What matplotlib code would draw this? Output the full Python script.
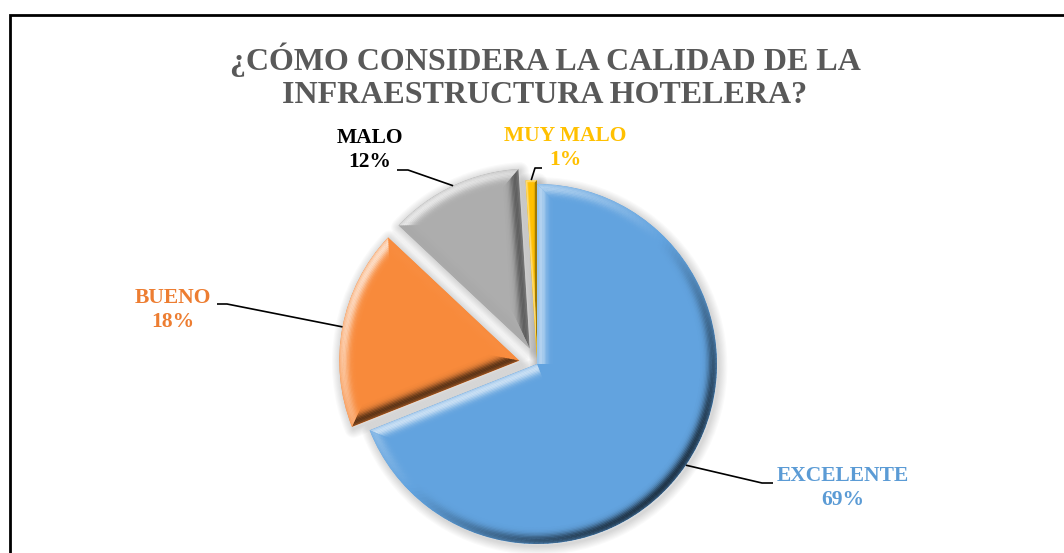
import math
import numpy as np
import matplotlib
matplotlib.use("Agg")
import matplotlib.pyplot as plt
from matplotlib.patches import Wedge, Polygon
from matplotlib import colors as mcolors

# ---------------- data ----------------
categories = ["EXCELENTE", "BUENO", "MALO", "MUY MALO"]
percentages = [69, 18, 12, 1]
title_text = "¿CÓMO CONSIDERA LA CALIDAD DE LA\nINFRAESTRUCTURA HOTELERA?"

# ---------------- style / layout ----------------
slice_colors = ["#62A3DF", "#F88A3B", "#ADADAD", "#FFC000"]
label_colors = ["#5B9BD5", "#ED7D31", "#000000", "#FFC000"]
explode_px = [0, 18, 17, 4]
W, H = 1064, 553
CX, CY, R = 537, 364, 180          # pie centre / radius in pixels (y from top)
label_xy = [(843, 488), (173, 310), (370, 150), (565, 148)]
elbow_xy = [(762, 483), (227, 304), (408, 170), (535, 168)]
tip_xy = [(773, 483), (217, 304), (397, 170), (542, 168)]
LIGHT = 135.0
FONT = "Liberation Serif"

fig = plt.figure(figsize=(W / 100, H / 100), dpi=100)
ax = fig.add_axes([0, 0, 1, 1])

wedges, _ = ax.pie(percentages, colors=slice_colors, startangle=90,
                   counterclock=False, explode=explode_px, radius=R,
                   center=(CX, H - CY), wedgeprops=dict(linewidth=0),
                   frame=False)
ax.set_xlim(0, W)
ax.set_ylim(0, H)
ax.set_aspect("equal")
ax.axis("off")


def shade(color, s):
    rgb = np.array(mcolors.to_rgb(color))
    if s >= 0:
        return tuple(np.clip(rgb + (1 - rgb) * s, 0, 1))
    return tuple(np.clip(rgb * (1 + s), 0, 1))


def light_factor(normal_deg):
    c = math.cos(math.radians(normal_deg - LIGHT))
    return c * (0.72 if c > 0 else 0.68)


def profile(t):
    # t = 0 at the outer edge of the bevel, 1 at its inner border
    return math.exp(-((t - 0.25) / 0.36) ** 2)


def add_clipped(patch, clip):
    ax.add_patch(patch)
    patch.set_clip_path(clip)


for w, base in zip(wedges, slice_colors):
    w.set_zorder(3)
    cx, cy = w.center
    r = w.r
    t1, t2 = w.theta1, w.theta2
    c = np.array([cx, cy])
    # soft shadow halo
    for j in range(1, 9):
        sh = Wedge((cx + 1.5, cy - 2), r, t1, t2, fc="none", ec="black",
                   lw=1.6 * j, alpha=0.018, joinstyle="round", zorder=1)
        ax.add_patch(sh)
    span = math.radians(t2 - t1)
    half = span / 2
    b = min(16.0, 0.3 * r * span)
    K = 12

    def s_start(d):
        return d / math.tan(half) if half < math.pi / 2 else 0.0

    def s_end(d):
        return math.sqrt(max((r - d) ** 2 - d ** 2, 0.0))

    # straight edges (mitered)
    for phi, sgn in [(t1, 1), (t2, -1)]:
        pr = math.radians(phi)
        u = np.array([math.cos(pr), math.sin(pr)])
        n_in = sgn * np.array([-math.sin(pr), math.cos(pr)])
        nout = math.degrees(math.atan2(-n_in[1], -n_in[0]))
        s = light_factor(nout)
        for k in range(K):
            d0, d1 = b * k / K, b * (k + 1) / K
            col = shade(base, s * profile((k + 0.5) / K))
            d1e = d1 + 0.4
            pts = [c + d0 * n_in + s_start(d0) * u, c + d0 * n_in + s_end(d0) * u,
                   c + d1e * n_in + s_end(d1e) * u, c + d1e * n_in + s_start(d1e) * u]
            add_clipped(Polygon(pts, closed=True, fc=col, ec="none", zorder=4), w)

    # curved rim (mitered)
    nseg = max(2, int(math.ceil((t2 - t1) / 1.5)))
    for k in range(K):
        d0, d1 = b * k / K, b * (k + 1) / K + 0.4
        ro, ri = r - d0, r - d1
        m_o = math.degrees(math.asin(min(d0 / ro, 1)))
        m_i = math.degrees(math.asin(min(d1 / ri, 1)))
        prof = profile((k + 0.5) / K)
        for j in range(nseg):
            f0, f1 = j / nseg, (j + 1) / nseg
            ao0 = t1 + m_o + f0 * (t2 - t1 - 2 * m_o)
            ao1 = t1 + m_o + f1 * (t2 - t1 - 2 * m_o)
            ai0 = t1 + m_i + f0 * (t2 - t1 - 2 * m_i)
            ai1 = t1 + m_i + f1 * (t2 - t1 - 2 * m_i)
            if ai1 <= ai0:
                continue
            ext = 0.15 if 0 < j < nseg - 1 else 0.0
            angs_o = np.radians(np.linspace(ao0 - ext, ao1 + ext, 3))
            angs_i = np.radians(np.linspace(ai1 + ext, ai0 - ext, 3))
            pts = np.vstack([
                np.column_stack([cx + ro * np.cos(angs_o), cy + ro * np.sin(angs_o)]),
                np.column_stack([cx + ri * np.cos(angs_i), cy + ri * np.sin(angs_i)]),
            ])
            mid = 0.5 * (ao0 + ao1)
            col = shade(base, light_factor(mid) * prof)
            add_clipped(Polygon(pts, closed=True, fc=col, ec="none", zorder=5), w)

# labels and leader lines
for w, cat, pct, col, lxy, exy, txy in zip(wedges, categories, percentages,
                                            label_colors, label_xy, elbow_xy, tip_xy):
    cx, cy = w.center
    m = math.radians(0.5 * (w.theta1 + w.theta2))
    sx, sy = cx + w.r * math.cos(m), cy + w.r * math.sin(m)
    ax.plot([sx, exy[0], txy[0]], [sy, H - exy[1], H - txy[1]],
            color="black", lw=1.2, zorder=6, solid_capstyle="butt")
    ax.text(lxy[0], H - lxy[1], f"{cat}\n{pct}%", ha="center", va="center",
            fontsize=15.5, fontweight="bold", family=FONT, color=col,
            linespacing=1.3, zorder=7)

ax.text(545, H - 76, title_text, ha="center", va="center", fontsize=23,
        fontweight="bold", family=FONT, color="#595959", linespacing=1.2)

# chart frame (continues past the right and bottom edges)
ax.plot([10, 10, W + 10], [-10, H - 15, H - 15], color="black", lw=2,
        solid_joinstyle="miter", zorder=8)

fig.savefig("out.png", dpi=100)
